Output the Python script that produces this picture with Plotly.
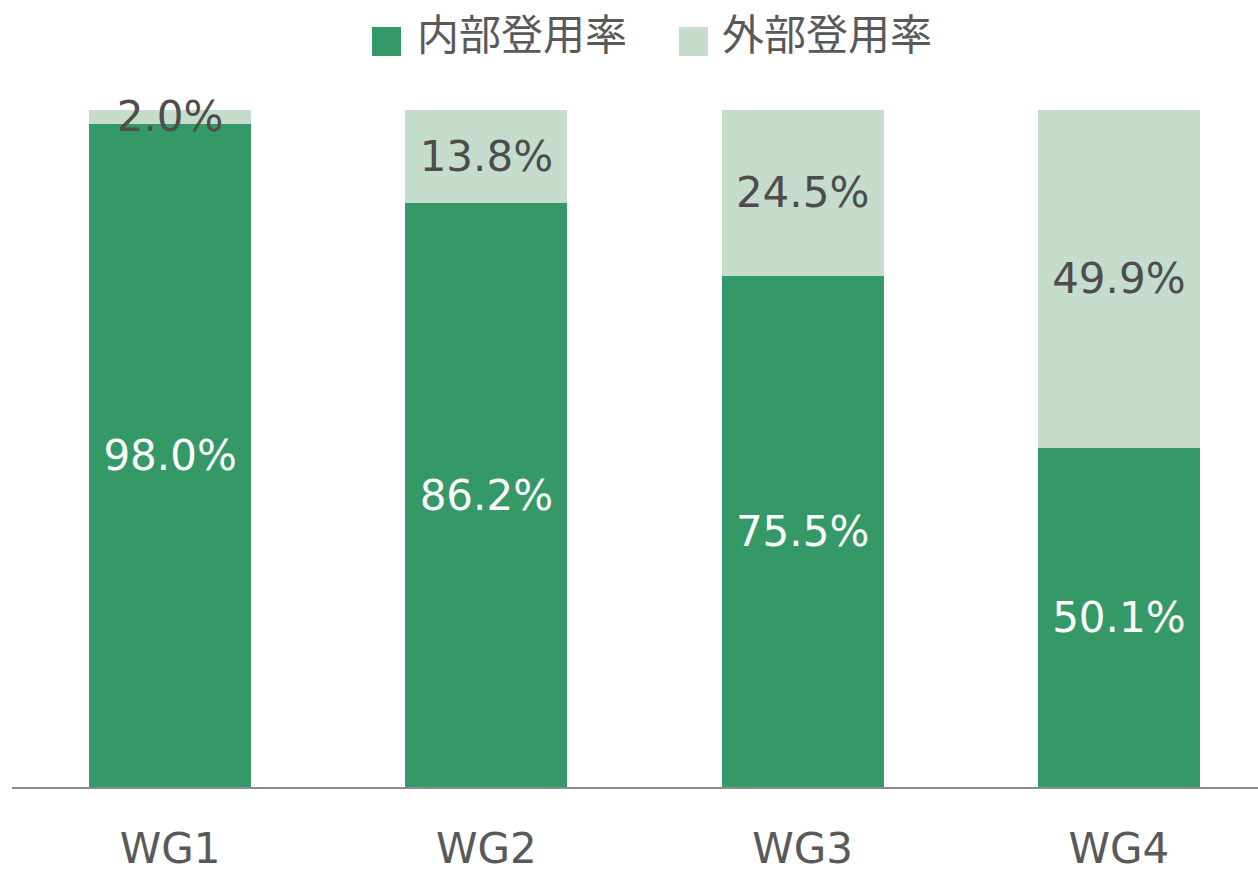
import plotly.graph_objects as go

# Data
groups = ["WG1", "WG2", "WG3", "WG4"]
internal_rate = [98.0, 86.2, 75.5, 50.1]
external_rate = [2.0, 13.8, 24.5, 49.9]
series_names = ["内部登用率", "外部登用率"]
series_colors = ["#349967", "#C6DCCC"]
label_colors = ["#FFFFFF", "#4D4D4D"]

FONT = "DejaVu Sans, Noto Sans CJK JP, sans-serif"
positions = list(range(len(groups)))

fig = go.Figure()
for vals, name, color, tcolor in zip(
    [internal_rate, external_rate], series_names, series_colors, label_colors
):
    fig.add_trace(go.Bar(
        x=positions,
        y=vals,
        name=name,
        marker=dict(color=color, line=dict(width=0)),
        text=[f"{v:.1f}%" for v in vals],
        textposition="inside",
        insidetextanchor="middle",
        constraintext="none",
        textangle=0,
        textfont=dict(family=FONT, size=42, color=tcolor),
        cliponaxis=False,
        showlegend=False,
        hoverinfo="skip",
    ))

# Legend drawn as swatches + labels across the top
PW, PH, L, T = 1246, 677, 12, 110
legend_items = [(372, 415), (679, 720)]
for (sx, tx), name, color in zip(legend_items, series_names, series_colors):
    fig.add_shape(type="rect", xref="paper", yref="paper",
                  x0=(sx - L) / PW, x1=(sx + 29 - L) / PW,
                  y0=1 + (T - 56) / PH, y1=1 + (T - 27) / PH,
                  fillcolor=color, line=dict(width=0))
    fig.add_annotation(xref="paper", yref="paper",
                       x=(tx - L) / PW, y=1 + (T - 36) / PH,
                       xanchor="left", yanchor="middle", showarrow=False,
                       text=name, font=dict(family=FONT, size=42, color="#595959"))

fig.update_layout(
    width=1258, height=875,
    margin=dict(l=L, r=0, t=T, b=88),
    paper_bgcolor="white", plot_bgcolor="white",
    barmode="stack",
    bargap=0.488,
    xaxis=dict(
        range=[-0.5, 3.44],
        automargin=False,
        tickmode="array", tickvals=positions, ticktext=groups,
        tickfont=dict(family=FONT, size=42, color="#595959"),
        ticks="outside", ticklen=24, tickcolor="rgba(0,0,0,0)",
        showline=True, linecolor="#8C8C8C", linewidth=2,
        showgrid=False, zeroline=False,
    ),
    yaxis=dict(range=[0, 100], visible=False, showgrid=False, zeroline=False,
               automargin=False),
)

fig.write_html("out.html")
